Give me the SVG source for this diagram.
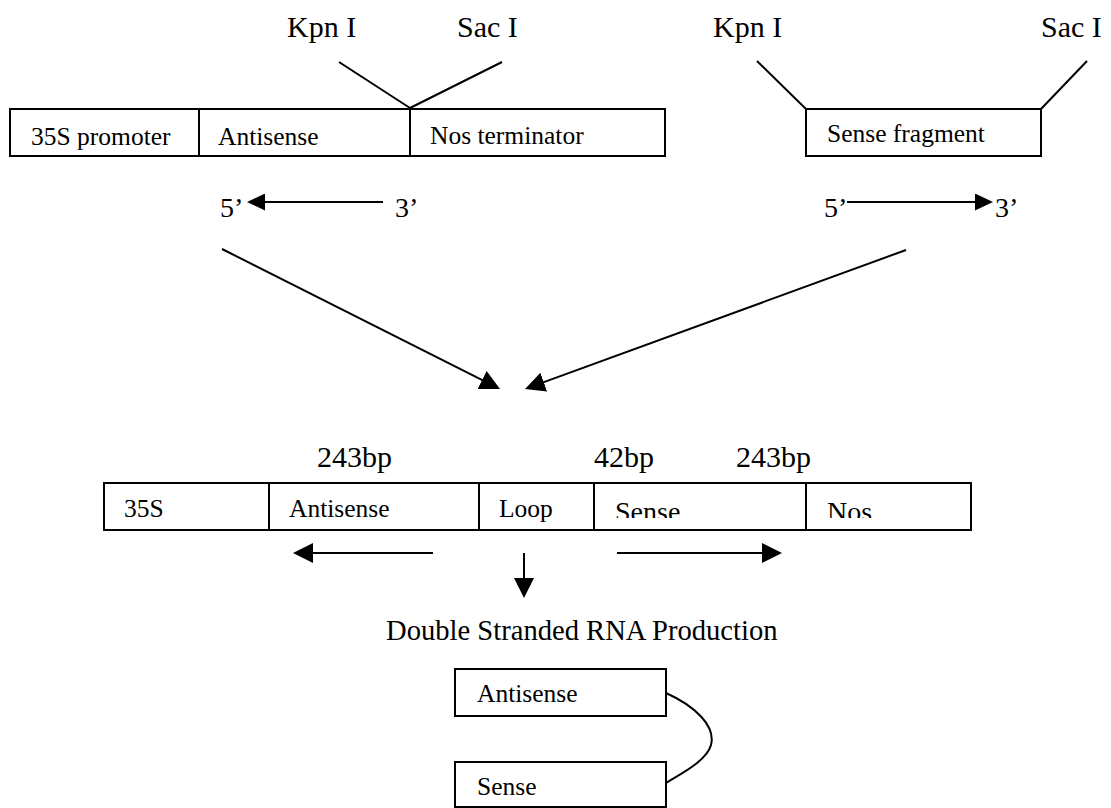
<svg xmlns="http://www.w3.org/2000/svg" width="1111" height="808" viewBox="0 0 1111 808">
<style>
text{font-family:"Liberation Serif","Times New Roman",serif;fill:#000}
.lb{font-size:25.5px}
.en{font-size:30px}
.pr{font-size:28px}
.bp{font-size:30px}
.box{fill:#fff;stroke:#000;stroke-width:2}
.ln{fill:none;stroke:#000;stroke-width:2}
</style>
<defs>
<marker id="ah" markerUnits="userSpaceOnUse" markerWidth="20" markerHeight="20" refX="8" refY="10" orient="auto" viewBox="0 0 20 20"><path d="M0,0 L20,10 L0,20 z" fill="#000"/></marker>
<marker id="as" markerUnits="userSpaceOnUse" markerWidth="18" markerHeight="17" refX="6" refY="8.5" orient="auto" viewBox="0 0 18 17"><path d="M0,0 L18,8.5 L0,17 z" fill="#000"/></marker>
<clipPath id="clipMid"><rect x="100" y="480" width="880" height="38"/></clipPath>
</defs>
<rect width="1111" height="808" fill="#fff"/>

<g id="antisense-construct">
<rect class="box" x="10" y="109" width="655" height="47"/>
<line class="ln" x1="199" y1="109" x2="199" y2="156"/>
<line class="ln" x1="410" y1="109" x2="410" y2="156"/>
<text class="lb" x="31" y="145">35S promoter</text>
<text class="lb" x="218" y="145">Antisense</text>
<text class="lb" x="430" y="144">Nos terminator</text>
<text class="en" x="287" y="37">Kpn I</text>
<text class="en" x="457" y="37">Sac I</text>
<line class="ln" x1="339" y1="62" x2="410" y2="108"/>
<line class="ln" x1="502" y1="62" x2="410" y2="108"/>
<text class="pr" x="220" y="217">5’</text>
<text class="pr" x="395" y="217">3’</text>
</g>

<g id="sense-fragment">
<rect class="box" x="806" y="109" width="235" height="47"/>
<text class="lb" x="827" y="142">Sense fragment</text>
<text class="en" x="713" y="37">Kpn I</text>
<text class="en" x="1041" y="37">Sac I</text>
<line class="ln" x1="757" y1="61" x2="806" y2="109"/>
<line class="ln" x1="1087" y1="61" x2="1041" y2="109"/>
<text class="pr" x="824" y="217">5’</text>
<text class="pr" x="995" y="217">3’</text>
</g>

<g id="hairpin-construct">
<rect class="box" x="104" y="483" width="867" height="47"/>
<line class="ln" x1="269" y1="483" x2="269" y2="530"/>
<line class="ln" x1="479" y1="483" x2="479" y2="530"/>
<line class="ln" x1="594" y1="483" x2="594" y2="530"/>
<line class="ln" x1="806" y1="483" x2="806" y2="530"/>
<text class="lb" x="124" y="517">35S</text>
<text class="lb" x="289" y="517">Antisense</text>
<text class="lb" x="499" y="517">Loop</text>
<g clip-path="url(#clipMid)">
<text class="pr" x="615" y="521">Sense</text>
<text class="pr" x="827" y="521">Nos</text>
</g>
<text class="bp" x="317" y="467">243bp</text>
<text class="bp" x="594" y="467">42bp</text>
<text class="bp" x="736" y="467">243bp</text>
</g>

<g id="dsrna">
<text style="font-size:28.6px" x="386" y="640">Double Stranded RNA Production</text>
<rect class="box" x="455" y="669" width="211" height="47"/>
<text class="lb" x="477" y="702">Antisense</text>
<rect class="box" x="455" y="762" width="211" height="45"/>
<text class="lb" x="477" y="795">Sense</text>
<path class="ln" d="M666,693 C695,706 716,726 711,745 C707,760 684,772 666,783"/>
</g>

<g id="connectors">
<line class="ln" x1="383" y1="202" x2="259" y2="202" marker-end="url(#as)"/>
<line class="ln" x1="847" y1="202" x2="981" y2="202" marker-end="url(#as)"/>
<line class="ln" x1="222" y1="249" x2="489.3" y2="383.6" marker-end="url(#ah)"/>
<line class="ln" x1="906" y1="250" x2="536.3" y2="384.9" marker-end="url(#ah)"/>
<line class="ln" x1="433" y1="553" x2="305" y2="553" marker-end="url(#ah)"/>
<line class="ln" x1="617" y1="553" x2="770" y2="553" marker-end="url(#ah)"/>
<line class="ln" x1="524" y1="553" x2="524" y2="586" marker-end="url(#ah)"/>
</g>
</svg>
